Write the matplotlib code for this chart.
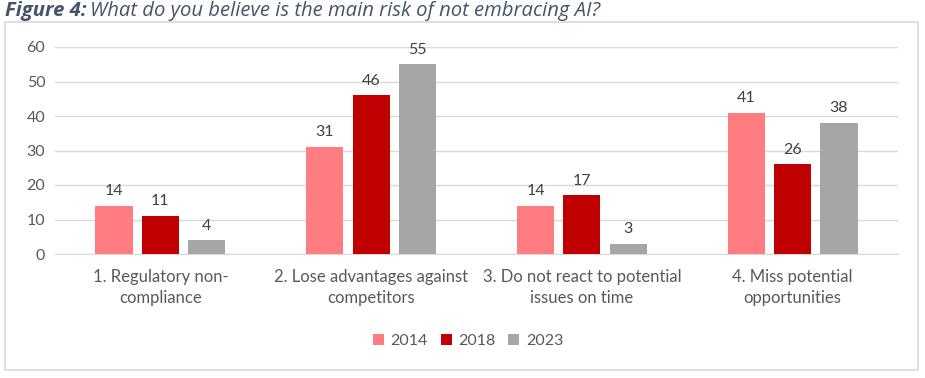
import matplotlib.pyplot as plt
import numpy as np
from matplotlib.patches import Rectangle

plt.rcParams['font.family'] = ['Lato', 'DejaVu Sans']

# ========data
categories = ["1. Regulatory non-\ncompliance", "2. Lose advantages against\ncompetitors",
              "3. Do not react to potential\nissues on time", "4. Miss potential\nopportunities"]
years = ["2014", "2018", "2023"]
v2014 = [14, 31, 14, 41]
v2018 = [11, 46, 17, 26]
v2023 = [4, 55, 3, 38]
colors = ["#FF7C80", "#C00000", "#A6A6A6"]
txt = "#595959"

fig = plt.figure(figsize=(9.25, 3.78), dpi=100)
# outer frame of the chart
fig.patches.append(Rectangle((5 / 925, 1 - 370 / 378), 913 / 925, 348 / 378, transform=fig.transFigure,
                             fill=False, edgecolor="#D9D9D9", lw=1.2))

# title: bold italic prefix + italic rest
t1 = fig.text(5 / 925, 1 - 11 / 378, "Figure 4:", fontsize=14.6, style="italic", weight="bold",
              color="#44546A", va="center", family="Open Sans")
fig.canvas.draw()
bb = t1.get_window_extent(renderer=fig.canvas.get_renderer())
fig.text((bb.x1 + 4) / 925, 1 - 11 / 378, "What do you believe is the main risk of not embracing AI?",
         fontsize=14.6, style="italic", color="#44546A", va="center", family="Open Sans")

ax = fig.add_axes([55 / 925, 124 / 378, 843 / 925, 207 / 378])
x = np.arange(len(categories))
w = 0.176
step = 0.22
for i, (vals, yr) in enumerate(zip([v2014, v2018, v2023], years)):
    bars = ax.bar(x + (i - 1) * step, vals, w, color=colors[i], label=yr, zorder=3)
    for b, v in zip(bars, vals):
        ax.text(b.get_x() + b.get_width() / 2, v + 2.2, str(v), ha="center", va="bottom",
                fontsize=11.5, color="#404040")

ax.set_xlim(-0.5, 3.5)
ax.set_ylim(0, 60)
ax.set_yticks(range(0, 61, 10))
ax.yaxis.grid(True, color="#D9D9D9", lw=1, zorder=0)
for s in ["top", "right", "left"]:
    ax.spines[s].set_visible(False)
ax.spines["bottom"].set_color("#D9D9D9")
ax.tick_params(axis="both", length=0, colors=txt)
ax.tick_params(axis="y", pad=7, labelsize=11.5)
ax.set_xticks(x)
ax.set_xticklabels(categories, linespacing=1.35, fontsize=12)
ax.xaxis.set_tick_params(pad=11)

ax.legend(loc="center", bbox_to_anchor=(0.49, -0.42), ncol=3, frameon=False, fontsize=11.5,
          handlelength=0.7, handleheight=0.7, handletextpad=0.4, columnspacing=0.8, labelcolor=txt)

plt.savefig("out.png", dpi=100)
